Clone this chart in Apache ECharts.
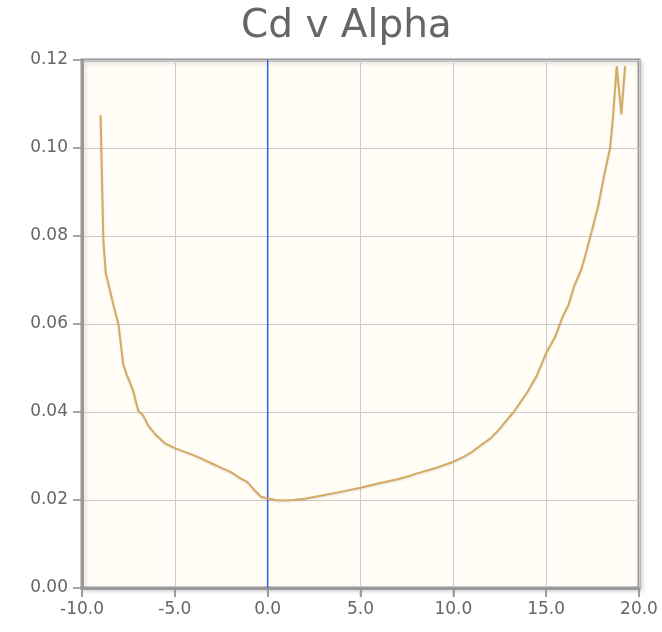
<!DOCTYPE html>
<html>
<head>
<meta charset="utf-8">
<script src="https://cdn.jsdelivr.net/npm/echarts@6/dist/echarts.min.js"></script>
<style>
html,body{margin:0;padding:0;background:#ffffff;}
#chart{width:662px;height:632px;}
</style>
</head>
<body>
<div id="chart"></div>
<script>
const titleText = "Cd v Alpha";
const alpha = [-9.0, -8.85, -8.72, -8.5, -8.31, -8.04, -7.78, -7.6, -7.24, -6.97, -6.7, -6.43, -6.0, -5.5, -5.0, -4.5, -4.0, -3.5, -3.0, -2.5, -2.0, -1.5, -1.1, -0.7, -0.35, 0.0, 0.4, 0.8, 1.4, 2.0, 2.5, 3.0, 4.0, 5.0, 6.0, 7.0, 7.5, 8.0, 9.0, 10.0, 10.5, 11.0, 11.5, 12.0, 12.5, 13.0, 13.25, 13.5, 14.0, 14.5, 15.0, 15.5, 15.9, 16.2, 16.5, 16.9, 17.2, 17.5, 17.8, 18.15, 18.45, 18.6, 18.8, 19.05, 19.25];
const cd = [0.1075, 0.079, 0.0716, 0.0678, 0.0644, 0.0600, 0.0509, 0.0486, 0.0448, 0.0403, 0.0392, 0.0369, 0.0347, 0.0328, 0.0318, 0.0310, 0.0302, 0.0293, 0.0283, 0.0273, 0.0264, 0.0250, 0.0241, 0.0222, 0.0207, 0.0204, 0.0200, 0.0199, 0.0200, 0.0203, 0.0207, 0.0211, 0.0219, 0.0228, 0.0238, 0.0247, 0.0253, 0.0260, 0.0272, 0.0287, 0.0297, 0.0309, 0.0325, 0.0340, 0.0362, 0.0388, 0.0400, 0.0415, 0.0446, 0.0483, 0.0534, 0.0572, 0.0618, 0.0643, 0.0685, 0.0725, 0.0770, 0.0818, 0.0868, 0.0943, 0.1002, 0.1070, 0.1186, 0.1077, 0.1186];
const markerAlpha = 0.0;
const markerCdRange = [0, 0.12];
const xTicks = [-10, -5, 0, 5, 10, 15, 20];
const yTicks = [0, 0.02, 0.04, 0.06, 0.08, 0.10, 0.12];
const X_MIN = -10, X_MAX = 20, Y_MIN = 0, Y_MAX = 0.12;

const chart = echarts.init(document.getElementById('chart'), null, {renderer: 'canvas'});
const labelStyle = {color: '#666', fontFamily: 'DejaVu Sans', fontSize: 17};

// outside tick marks, expressed in axis units (about 9px long)
const tickLenX = (X_MAX - X_MIN) / 557 * 9;
const tickLenY = (Y_MAX - Y_MIN) / 528 * 9;
const tickSeries = xTicks.map(v => [[v, Y_MIN], [v, Y_MIN - tickLenY]])
  .concat(yTicks.map(v => [[X_MIN - tickLenX, v], [X_MIN, v]]))
  .map(seg => ({
    type: 'line', data: seg, showSymbol: false, silent: true, clip: false,
    lineStyle: {color: '#999', width: 1.5}, itemStyle: {color: '#999'}, z: 5
  }));

chart.setOption({
  animation: false,
  backgroundColor: '#ffffff',
  title: {
    text: titleText, left: 236, top: 2,
    textStyle: {color: '#666', fontFamily: 'DejaVu Sans', fontSize: 39, fontWeight: 'normal'}
  },
  grid: {
    left: 82, right: 23, top: 60, bottom: 44,
    show: true, backgroundColor: '#fffdf6', borderColor: '#999', borderWidth: 3,
    shadowColor: 'rgba(0,0,0,0.15)', shadowBlur: 4, shadowOffsetX: 2, shadowOffsetY: 2
  },
  xAxis: {
    type: 'value', min: X_MIN, max: X_MAX, interval: 5, position: 'bottom',
    axisLine: {show: true, onZero: false, lineStyle: {color: '#999', width: 3}},
    axisTick: {show: true, inside: false, length: 9, lineStyle: {color: '#888', width: 1.5}},
    splitLine: {show: true, lineStyle: {color: '#ccc', width: 1}},
    axisLabel: Object.assign({margin: 13, formatter: v => v.toFixed(1), showMaxLabel: true, showMinLabel: true}, labelStyle)
  },
  yAxis: {
    type: 'value', min: Y_MIN, max: Y_MAX, interval: 0.02, position: 'left',
    axisLine: {show: true, onZero: false, lineStyle: {color: '#999', width: 3}},
    axisTick: {show: true, inside: false, length: 9, lineStyle: {color: '#888', width: 1.5}},
    splitLine: {show: true, lineStyle: {color: '#ccc', width: 1}},
    axisLabel: Object.assign({margin: 14, formatter: v => v.toFixed(2)}, labelStyle)
  },
  series: [{
    type: 'line',
    name: 'marker',
    data: markerCdRange.map(v => [markerAlpha, v]),
    showSymbol: false,
    lineStyle: {color: '#2c62ee', width: 1.5},
    itemStyle: {color: '#2c62ee'},
    z: 1
  }, {
    type: 'line',
    name: 'Cd',
    data: alpha.map((a, i) => [a, cd[i]]),
    showSymbol: false,
    lineStyle: {color: '#d6aa60', width: 2, shadowColor: 'rgba(0,0,0,0.12)', shadowBlur: 2, shadowOffsetY: 1},
    itemStyle: {color: '#d6aa60'},
    z: 2
  }].concat(tickSeries)
});
</script>
</body>
</html>
